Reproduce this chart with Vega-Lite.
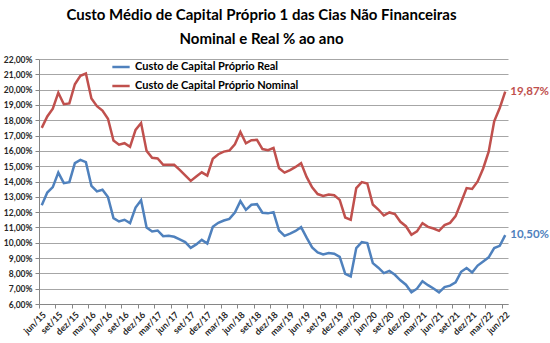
{
  "$schema": "https://vega.github.io/schema/vega-lite/v6.json",
  "width": 469,
  "height": 245,
  "autosize": "none",
  "padding": {"left": 39, "top": 59, "right": 42, "bottom": 39},
  "background": "white",
  "config": {
    "font": "Lato",
    "locale": {"number": {"decimal": ",", "thousands": ".", "grouping": [3], "currency": ["", "%"]}},
    "view": {"stroke": null}
  },
  "title": {
    "text": ["Custo Médio de Capital Próprio 1 das Cias Não Financeiras", "Nominal e Real  % ao ano"],
    "font": "Lato",
    "fontSize": 15,
    "fontWeight": "bold",
    "color": "#000000",
    "anchor": "middle",
    "dx": -12,
    "offset": 8,
    "lineHeight": 24
  },
  "data": {
    "values": [
      {"mes": "jun/15", "real": 12.45, "nominal": 17.5},
      {"mes": "jul/15", "real": 13.28, "nominal": 18.25},
      {"mes": "ago/15", "real": 13.63, "nominal": 18.75},
      {"mes": "set/15", "real": 14.58, "nominal": 19.8},
      {"mes": "out/15", "real": 13.89, "nominal": 19.05},
      {"mes": "nov/15", "real": 13.96, "nominal": 19.1},
      {"mes": "dez/15", "real": 15.2, "nominal": 20.35},
      {"mes": "jan/16", "real": 15.41, "nominal": 20.9},
      {"mes": "fev/16", "real": 15.26, "nominal": 21.05},
      {"mes": "mar/16", "real": 13.72, "nominal": 19.42},
      {"mes": "abr/16", "real": 13.35, "nominal": 18.92},
      {"mes": "mai/16", "real": 13.46, "nominal": 18.63},
      {"mes": "jun/16", "real": 12.98, "nominal": 18.1},
      {"mes": "jul/16", "real": 11.61, "nominal": 16.68},
      {"mes": "ago/16", "real": 11.39, "nominal": 16.4},
      {"mes": "set/16", "real": 11.5, "nominal": 16.5},
      {"mes": "out/16", "real": 11.28, "nominal": 16.26},
      {"mes": "nov/16", "real": 12.3, "nominal": 17.37},
      {"mes": "dez/16", "real": 12.78, "nominal": 17.82},
      {"mes": "jan/17", "real": 11.0, "nominal": 16.0},
      {"mes": "fev/17", "real": 10.74, "nominal": 15.55},
      {"mes": "mar/17", "real": 10.8, "nominal": 15.5},
      {"mes": "abr/17", "real": 10.43, "nominal": 15.09},
      {"mes": "mai/17", "real": 10.46, "nominal": 15.09},
      {"mes": "jun/17", "real": 10.39, "nominal": 15.09},
      {"mes": "jul/17", "real": 10.22, "nominal": 14.76},
      {"mes": "ago/17", "real": 10.04, "nominal": 14.4},
      {"mes": "set/17", "real": 9.67, "nominal": 14.04},
      {"mes": "out/17", "real": 9.89, "nominal": 14.32},
      {"mes": "nov/17", "real": 10.19, "nominal": 14.6},
      {"mes": "dez/17", "real": 9.95, "nominal": 14.38},
      {"mes": "jan/18", "real": 11.04, "nominal": 15.48},
      {"mes": "fev/18", "real": 11.3, "nominal": 15.78},
      {"mes": "mar/18", "real": 11.45, "nominal": 15.95},
      {"mes": "abr/18", "real": 11.56, "nominal": 16.02},
      {"mes": "mai/18", "real": 11.97, "nominal": 16.43},
      {"mes": "jun/18", "real": 12.72, "nominal": 17.24},
      {"mes": "jul/18", "real": 12.15, "nominal": 16.5},
      {"mes": "ago/18", "real": 12.48, "nominal": 16.7},
      {"mes": "set/18", "real": 12.52, "nominal": 16.72},
      {"mes": "out/18", "real": 11.96, "nominal": 16.12},
      {"mes": "nov/18", "real": 11.92, "nominal": 16.05},
      {"mes": "dez/18", "real": 12.0, "nominal": 16.19},
      {"mes": "jan/19", "real": 10.8, "nominal": 14.87},
      {"mes": "fev/19", "real": 10.45, "nominal": 14.58},
      {"mes": "mar/19", "real": 10.6, "nominal": 14.74},
      {"mes": "abr/19", "real": 10.77, "nominal": 14.95},
      {"mes": "mai/19", "real": 11.02, "nominal": 15.2},
      {"mes": "jun/19", "real": 10.33, "nominal": 14.3},
      {"mes": "jul/19", "real": 9.7, "nominal": 13.62},
      {"mes": "ago/19", "real": 9.37, "nominal": 13.18},
      {"mes": "set/19", "real": 9.24, "nominal": 13.06},
      {"mes": "out/19", "real": 9.33, "nominal": 13.15},
      {"mes": "nov/19", "real": 9.28, "nominal": 13.1},
      {"mes": "dez/19", "real": 9.08, "nominal": 12.8},
      {"mes": "jan/20", "real": 7.97, "nominal": 11.65},
      {"mes": "fev/20", "real": 7.8, "nominal": 11.5},
      {"mes": "mar/20", "real": 9.65, "nominal": 13.57},
      {"mes": "abr/20", "real": 10.04, "nominal": 13.96},
      {"mes": "mai/20", "real": 9.98, "nominal": 13.87},
      {"mes": "jun/20", "real": 8.67, "nominal": 12.5},
      {"mes": "jul/20", "real": 8.37, "nominal": 12.17},
      {"mes": "ago/20", "real": 8.02, "nominal": 11.78},
      {"mes": "set/20", "real": 8.16, "nominal": 11.98},
      {"mes": "out/20", "real": 7.91, "nominal": 11.87},
      {"mes": "nov/20", "real": 7.55, "nominal": 11.37},
      {"mes": "dez/20", "real": 7.26, "nominal": 11.08},
      {"mes": "jan/21", "real": 6.77, "nominal": 10.52},
      {"mes": "fev/21", "real": 7.0, "nominal": 10.74},
      {"mes": "mar/21", "real": 7.48, "nominal": 11.28},
      {"mes": "abr/21", "real": 7.23, "nominal": 11.04},
      {"mes": "mai/21", "real": 7.01, "nominal": 10.93},
      {"mes": "jun/21", "real": 6.76, "nominal": 10.78},
      {"mes": "jul/21", "real": 7.1, "nominal": 11.15},
      {"mes": "ago/21", "real": 7.2, "nominal": 11.3},
      {"mes": "set/21", "real": 7.41, "nominal": 11.74},
      {"mes": "out/21", "real": 8.1, "nominal": 12.65},
      {"mes": "nov/21", "real": 8.35, "nominal": 13.57},
      {"mes": "dez/21", "real": 8.06, "nominal": 13.51},
      {"mes": "jan/22", "real": 8.51, "nominal": 14.0},
      {"mes": "fev/22", "real": 8.78, "nominal": 14.85},
      {"mes": "mar/22", "real": 9.05, "nominal": 15.95},
      {"mes": "abr/22", "real": 9.65, "nominal": 17.93},
      {"mes": "mai/22", "real": 9.8, "nominal": 18.8},
      {"mes": "jun/22", "real": 10.5, "nominal": 19.87}
    ]
  },
  "transform": [{"fold": ["real", "nominal"], "as": ["serie", "valor"]}],
  "encoding": {
    "x": {
      "field": "mes",
      "type": "ordinal",
      "sort": null,
      "bandPosition": 0.5,
      "scale": {"type": "band", "paddingInner": 0, "paddingOuter": 0},
      "axis": {
        "title": null,
        "bandPosition": 0,
        "values": ["jun/15", "set/15", "dez/15", "mar/16", "jun/16", "set/16", "dez/16", "mar/17", "jun/17", "set/17", "dez/17", "mar/18", "jun/18", "set/18", "dez/18", "mar/19", "jun/19", "set/19", "dez/19", "mar/20", "jun/20", "set/20", "dez/20", "mar/21", "jun/21", "set/21", "dez/21", "mar/22", "jun/22"],
        "labelAngle": -45,
        "labelFont": "Lato",
        "labelFontSize": 9,
        "labelFontWeight": "bold",
        "labelColor": "#262626",
        "labelPadding": 2,
        "domainColor": "#868686",
        "tickColor": "#868686",
        "tickSize": 4,
        "grid": false
      }
    },
    "y": {
      "field": "valor",
      "type": "quantitative",
      "scale": {"domain": [6, 22], "nice": false, "zero": false},
      "axis": {
        "title": null,
        "values": [6, 7, 8, 9, 10, 11, 12, 13, 14, 15, 16, 17, 18, 19, 20, 21, 22],
        "format": "$.2f",
        "labelFont": "Lato",
        "labelFontSize": 8.5,
        "labelFontWeight": "bold",
        "labelColor": "#262626",
        "labelPadding": 3,
        "domainColor": "#868686",
        "tickColor": "#868686",
        "tickSize": 4,
        "grid": true,
        "gridColor": "#A6A6A6",
        "gridWidth": 1
      }
    },
    "color": {
      "field": "serie",
      "type": "nominal",
      "scale": {"domain": ["real", "nominal"], "range": ["#4F81BD", "#C0504D"]},
      "legend": {
        "title": null,
        "orient": "none",
        "legendX": 72,
        "legendY": -2,
        "symbolType": "stroke",
        "symbolStrokeWidth": 2.5,
        "symbolSize": 300,
        "labelFont": "Lato",
        "labelFontSize": 11,
        "labelFontWeight": "bold",
        "labelColor": "#000000",
        "labelLimit": 400,
        "rowPadding": 4,
        "labelExpr": "datum.label == 'real' ? 'Custo de Capital Próprio Real' : 'Custo de Capital Próprio Nominal'"
      }
    }
  },
  "layer": [
    {"mark": {"type": "line", "strokeWidth": 2.5}},
    {
      "transform": [{"filter": "datum.mes == 'jun/22'"}],
      "mark": {"type": "text", "align": "left", "dx": 5, "fontSize": 11.5, "fontWeight": "bold", "font": "Lato"},
      "encoding": {"text": {"field": "valor", "type": "quantitative", "format": "$.2f"}}
    }
  ]
}
